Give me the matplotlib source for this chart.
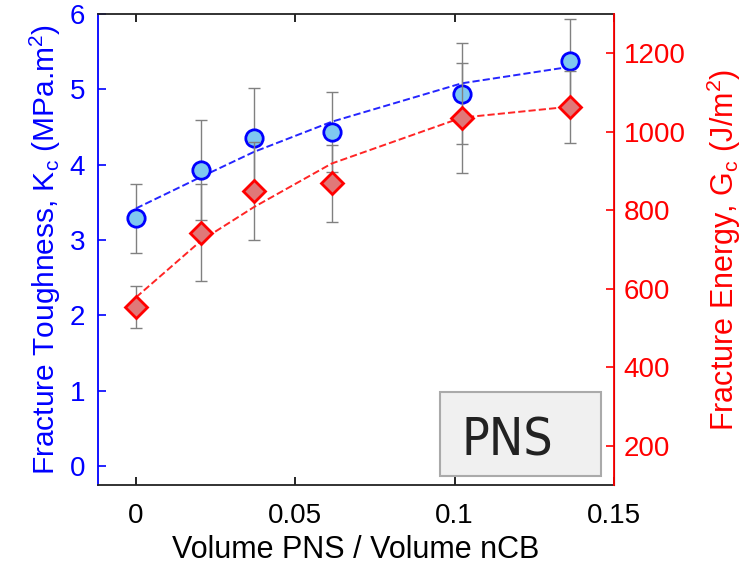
import matplotlib
matplotlib.use('Agg')
import matplotlib.pyplot as plt
from matplotlib.patches import Rectangle

plt.rcParams['font.family'] = ['Liberation Sans', 'DejaVu Sans']
plt.rcParams['mathtext.fontset'] = 'custom'
plt.rcParams['mathtext.rm'] = 'Liberation Sans'
plt.rcParams['mathtext.it'] = 'Liberation Sans'

# volume fraction PNS / nCB
vol_frac = [0.0, 0.0205, 0.037, 0.0614, 0.1022, 0.1363]

# fracture toughness Kc (left axis)
kc = [3.29, 3.93, 4.35, 4.43, 4.94, 5.37]
kc_err = [0.46, 0.67, 0.67, 0.53, 0.67, 0.56]
kc_fit = [3.42, 3.84, 4.17, 4.57, 5.08, 5.30]

# fracture energy Gc (right axis)
gc = [553, 743, 849, 869, 1036, 1064]
gc_err = [53, 123, 124, 98, 140, 92]
gc_fit = [578, 723, 808, 919, 1036, 1064]

fig = plt.figure(figsize=(7.42, 5.67), dpi=100)
ax = fig.add_axes([0.1317, 0.1446, 0.6958, 0.8307])
ax2 = ax.twinx()

# error bars (grey) behind markers
ax.errorbar(vol_frac, kc, yerr=kc_err, fmt='none', ecolor='#808080',
            elinewidth=1, capsize=4, capthick=1, zorder=1)
ax2.errorbar(vol_frac, gc, yerr=gc_err, fmt='none', ecolor='#808080',
             elinewidth=1, capsize=4, capthick=1, zorder=1)

# fits
ax.plot(vol_frac, kc_fit, '--', color='#2525ff', lw=1.4, zorder=2)
ax2.plot(vol_frac, gc_fit, '--', color='#ff2525', lw=1.4, zorder=2)

# data markers
ax.plot(vol_frac, kc, 'o', ms=12.5, mfc='#7fc8f0', mec='#0000ff', mew=2, zorder=3)
ax2.plot(vol_frac, gc, 'D', ms=11, mfc='#e07878', mec='#ff0000', mew=2, zorder=3)

ax.set_xlim(-0.012, 0.15)
ax.set_ylim(-0.25, 6)
ax2.set_ylim(100, 1300)
ax.set_xticks([0, 0.05, 0.1, 0.15])
ax.set_xticklabels(['0', '0.05', '0.1', '0.15'])
ax.set_yticks([0, 1, 2, 3, 4, 5, 6])
ax2.set_yticks([200, 400, 600, 800, 1000, 1200])

ax.tick_params(axis='x', direction='in', top=True, length=6, width=1.2,
               labelsize=20, pad=13, colors='black')
ax.tick_params(axis='y', direction='in', length=6, width=1.2, labelsize=20,
               colors='#0000ff', pad=9)
ax2.tick_params(axis='y', direction='in', length=6, width=1.2, labelsize=20,
                colors='#ff0000', pad=7)

for s in ['top', 'bottom']:
    ax.spines[s].set_color('#222222')
    ax.spines[s].set_linewidth(1.3)
ax.spines['left'].set_color('#0000ff')
ax.spines['left'].set_linewidth(1.3)
ax2.spines['right'].set_color('#ff0000')
ax2.spines['right'].set_linewidth(1.3)
ax2.spines['left'].set_visible(False)
ax2.spines['top'].set_visible(False)
ax2.spines['bottom'].set_visible(False)

ax.set_xlabel('Volume PNS / Volume nCB', fontsize=22, labelpad=4)
ax.set_ylabel(r'Fracture Toughness, K$_\mathregular{c}$ (MPa.m$^\mathregular{2}$)',
              fontsize=21.5, color='#0000ff', labelpad=5)
ax2.set_ylabel(r'Fracture Energy, G$_\mathregular{c}$ (J/m$^\mathregular{2}$)',
               fontsize=22, color='#ff0000', labelpad=14)

# PNS label box
ax2.add_patch(Rectangle((0.663, 0.019), 0.312, 0.179, transform=ax2.transAxes,
                        facecolor='#f0f0f0', edgecolor='#aaaaaa', lw=1.5, zorder=4))
ax2.text(0.704, 0.062, 'PNS', transform=ax2.transAxes, fontsize=37,
         family=['DejaVu Sans'], fontstretch='condensed', color='#222222',
         va='baseline', zorder=5)

fig.savefig('out.png', dpi=100)
